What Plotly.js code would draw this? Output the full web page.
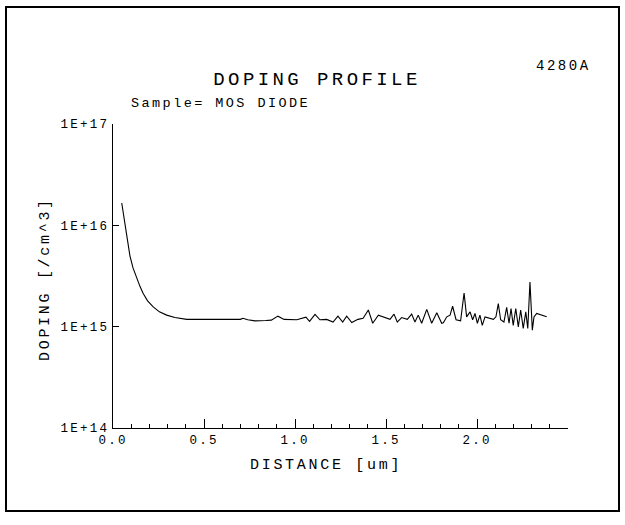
<!DOCTYPE html>
<html>
<head>
<meta charset="utf-8">
<script src="https://cdn.plot.ly/plotly-3.0.1.min.js"></script>
<style>
  html, body { margin: 0; padding: 0; background: #fff; }
  #chart { width: 625px; height: 525px; }
  svg text { letter-spacing: 0.18em; }
</style>
</head>
<body>
<div id="chart"></div>
<script>
// Distance [um]
const distance = [
  0.048, 0.057, 0.066, 0.079, 0.093, 0.11, 0.13, 0.148, 0.166, 0.19,
  0.221, 0.255, 0.295, 0.34, 0.405, 0.44, 0.47, 0.50, 0.53, 0.56,
  0.59, 0.62, 0.65, 0.68, 0.70, 0.714, 0.74, 0.78, 0.81, 0.84,
  0.87, 0.906, 0.94, 0.97, 1.01, 1.06, 1.08, 1.11, 1.137, 1.174,
  1.209, 1.236, 1.262, 1.284, 1.312, 1.346, 1.374, 1.403, 1.427, 1.458,
  1.495, 1.522, 1.544, 1.562, 1.586, 1.617, 1.641, 1.659, 1.677, 1.696,
  1.724, 1.751, 1.779, 1.806, 1.815, 1.834, 1.852, 1.866, 1.885, 1.910,
  1.929, 1.943, 1.962, 1.976, 1.989, 2.002, 2.016, 2.029, 2.044, 2.090,
  2.104, 2.117, 2.130, 2.148, 2.163, 2.176, 2.187, 2.199, 2.213, 2.227,
  2.240, 2.254, 2.268, 2.279, 2.291, 2.304, 2.313, 2.328, 2.383
];
// Doping [/cm^3]
const doping = [
  1.66e16, 1.30e16, 1.00e16, 7.1e15, 5.0e15, 3.8e15, 2.99e15, 2.5e15, 2.12e15, 1.80e15,
  1.57e15, 1.40e15, 1.30e15, 1.23e15, 1.18e15, 1.18e15, 1.19e15, 1.18e15, 1.18e15, 1.19e15,
  1.18e15, 1.19e15, 1.19e15, 1.19e15, 1.18e15, 1.21e15, 1.17e15, 1.14e15, 1.14e15, 1.15e15,
  1.16e15, 1.27e15, 1.18e15, 1.17e15, 1.17e15, 1.24e15, 1.13e15, 1.32e15, 1.17e15, 1.18e15,
  1.11e15, 1.27e15, 1.11e15, 1.27e15, 1.10e15, 1.18e15, 1.21e15, 1.46e15, 1.08e15, 1.30e15,
  1.23e15, 1.18e15, 1.33e15, 1.11e15, 1.23e15, 1.18e15, 1.33e15, 1.11e15, 1.30e15, 1.08e15,
  1.48e15, 1.08e15, 1.37e15, 1.08e15, 1.09e15, 1.25e15, 1.30e15, 1.59e15, 1.17e15, 1.14e15,
  2.15e15, 1.25e15, 1.40e15, 1.17e15, 1.35e15, 1.08e15, 1.30e15, 1.03e15, 1.25e15, 1.18e15,
  1.25e15, 1.69e15, 1.17e15, 1.11e15, 1.55e15, 1.08e15, 1.51e15, 1.03e15, 1.51e15, 9.95e14,
  1.46e15, 9.6e14, 1.40e15, 9.6e14, 2.76e15, 9.25e14, 1.25e15, 1.35e15, 1.25e15
];

const xTickVals = [0, 0.5, 1.0, 1.5, 2.0];
const xTickText = ["0.0", "0.5", "1.0", "1.5", "2.0"];
const xMinorVals = [0.1, 0.2, 0.3, 0.4, 0.6, 0.7, 0.8, 0.9, 1.1, 1.2, 1.3, 1.4,
                    1.6, 1.7, 1.8, 1.9, 2.1, 2.2, 2.3, 2.4];
const yTickVals = [1e14, 1e15, 1e16, 1e17];
const yTickText = ["1E+14", "1E+15", "1E+16", "1E+17"];

const FONT = "Liberation Mono, DejaVu Sans Mono, monospace";

const trace = {
  x: distance,
  y: doping,
  type: "scatter",
  mode: "lines",
  line: { color: "#000", width: 1.1 },
  showlegend: false,
  hoverinfo: "skip"
};

const mL = 113, mR = 57, mT = 124, mB = 97;
const W = 625, H = 525;
const pw = W - mL - mR, ph = H - mT - mB;
function px2paperX(px) { return (px - mL) / pw; }
function py2paperY(py) { return (H - mB - py) / ph; }

const layout = {
  width: W,
  height: H,
  margin: { l: mL, r: mR, t: mT, b: mB, pad: 0 },
  paper_bgcolor: "#fff",
  plot_bgcolor: "#fff",
  font: { family: FONT, color: "#000", size: 12 },
  title: {
    text: "DOPING PROFILE",
    font: { family: FONT, size: 19, color: "#000" },
    xref: "container", yref: "container",
    x: 317 / W, y: 1 - 78 / H,
    xanchor: "center", yanchor: "middle"
  },
  xaxis: {
    range: [0, 2.5],
    showline: true, linecolor: "#000", linewidth: 1.3,
    showgrid: false, zeroline: false,
    tickmode: "array", tickvals: xTickVals, ticktext: xTickText,
    ticks: "inside", ticklen: 9, tickwidth: 1, tickcolor: "#000",
    tickfont: { family: FONT, size: 12.5, color: "#000" },
    minor: { tickmode: "array", tickvals: xMinorVals, ticks: "inside", ticklen: 4, tickwidth: 1, tickcolor: "#000", showgrid: false },
    fixedrange: true
  },
  yaxis: {
    type: "log",
    range: [14, 17],
    showline: true, linecolor: "#000", linewidth: 1.3,
    showgrid: false, zeroline: false,
    tickmode: "array", tickvals: yTickVals, ticktext: yTickText,
    ticks: "inside", ticklen: 6, tickwidth: 1, tickcolor: "#000",
    tickfont: { family: FONT, size: 12.5, color: "#000" },
    fixedrange: true
  },
  annotations: [
    { text: "DISTANCE [um]", xref: "paper", yref: "paper",
      x: px2paperX(326), y: py2paperY(465), xanchor: "center", yanchor: "middle",
      showarrow: false, font: { family: FONT, size: 15, color: "#000" } },
    { text: "DOPING [/cm^3]", xref: "paper", yref: "paper", textangle: -90,
      x: px2paperX(45), y: py2paperY(279), xanchor: "center", yanchor: "middle",
      showarrow: false, font: { family: FONT, size: 15, color: "#000" } },
    { text: "Sample= MOS DIODE", xref: "paper", yref: "paper",
      x: px2paperX(129), y: py2paperY(104), xanchor: "left", yanchor: "middle",
      showarrow: false, font: { family: FONT, size: 13.5, color: "#000" } },
    { text: "4280A", xref: "paper", yref: "paper",
      x: px2paperX(534), y: py2paperY(66), xanchor: "left", yanchor: "middle",
      showarrow: false, font: { family: FONT, size: 14, color: "#000" } }
  ],
  shapes: [
    { type: "rect", xref: "paper", yref: "paper",
      x0: px2paperX(6), x1: px2paperX(619), y0: py2paperY(511), y1: py2paperY(7),
      line: { color: "#000", width: 2 }, fillcolor: "rgba(0,0,0,0)", layer: "below" }
  ]
};

Plotly.newPlot("chart", [trace], layout, { staticPlot: true, displayModeBar: false });
</script>
</body>
</html>
